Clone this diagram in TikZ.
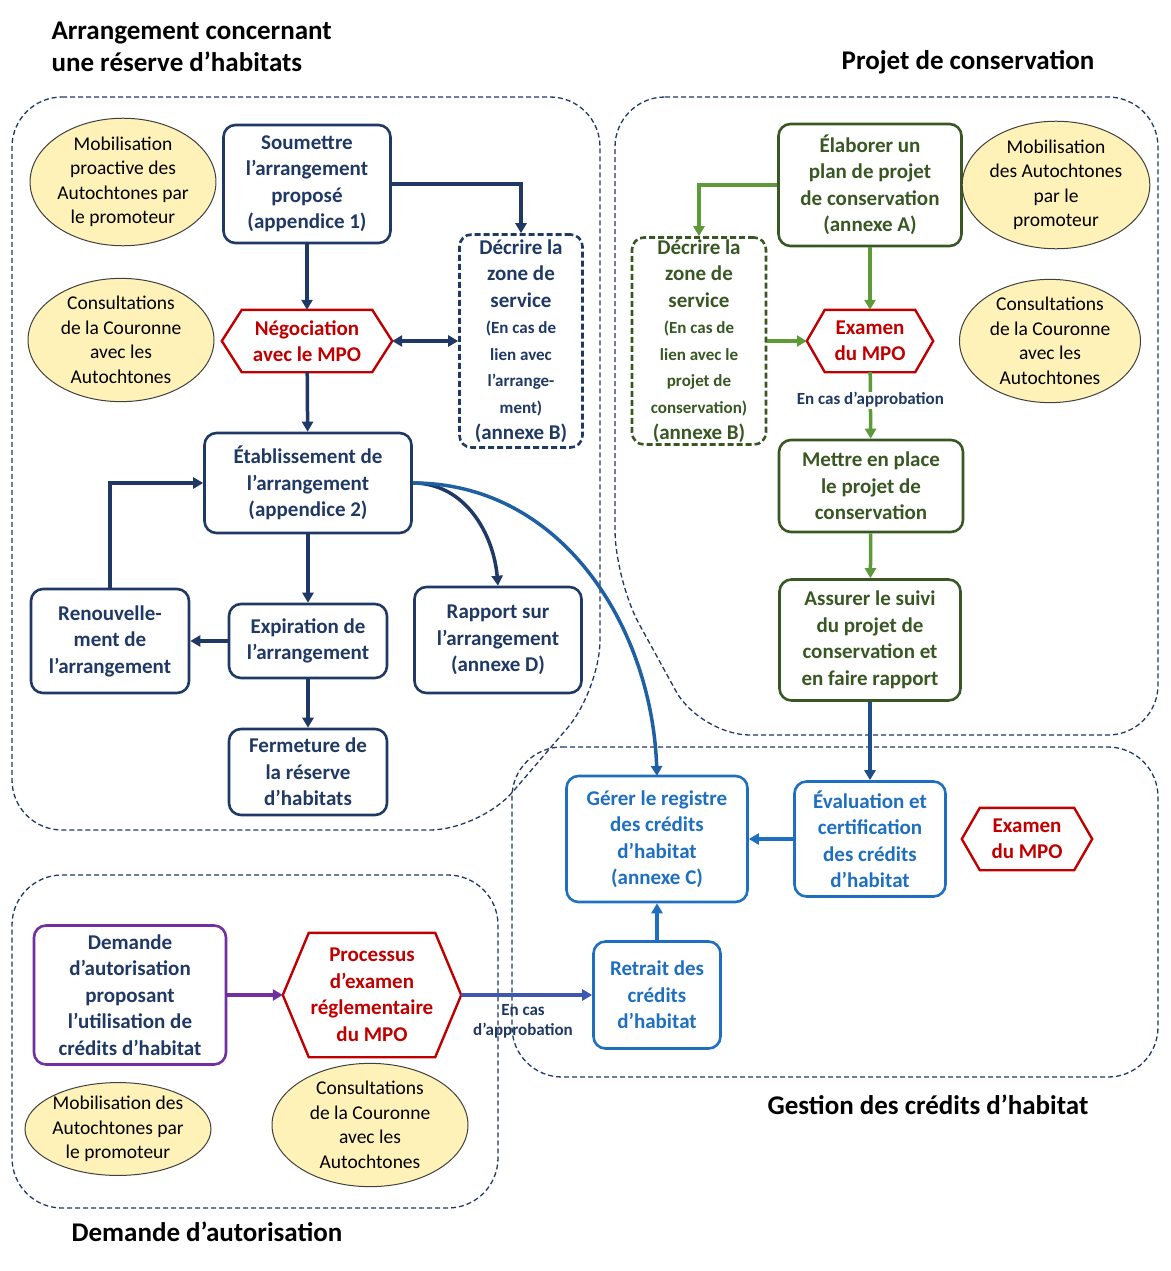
\documentclass[tikz,border=0pt]{standalone}
\usepackage{fontspec}
\setmainfont{Carlito}
\usetikzlibrary{arrows.meta,calc,shapes.geometric}
\definecolor{navy}{HTML}{1F3864}
\definecolor{dred}{HTML}{C00000}
\definecolor{dgreen}{HTML}{385723}
\definecolor{lgreen}{HTML}{5E9A3A}
\definecolor{mblue}{HTML}{1F6FC0}
\definecolor{purp}{HTML}{7030A0}
\definecolor{ell}{HTML}{FFF2B8}
\begin{document}
\begin{tikzpicture}[x=1pt,y=-1pt,
 box/.style={draw,line width=2.6pt,rounded corners=12pt,align=center,font=\fontsize{21}{26.5}\selectfont\bfseries,inner sep=0pt},
 nb/.style={box,draw=navy,text=navy},
 gb/.style={box,draw=dgreen,text=dgreen},
 bb/.style={box,draw=mblue,text=mblue},
 hx/.style={align=center,font=\fontsize{21}{26.5}\selectfont\bfseries,text=dred,inner sep=0pt},
 el/.style={ellipse,draw=black!75,fill=ell,line width=1pt,align=center,font=\fontsize{19.5}{24.5}\selectfont,inner sep=0pt},
 reg/.style={draw=navy,line width=1.3pt,dash pattern=on 5pt off 3pt,rounded corners=50pt},
 ar/.style={line width=3.5pt,-{Triangle[length=10pt,width=11pt]}},
 ttl/.style={font=\fontsize{27}{32}\selectfont\bfseries,align=left}]
\useasboundingbox (0,0) rectangle (1170,1271);
\newcommand{\hexa}[2]{\draw[dred,line width=2.4pt,line join=miter] (#1.west) -- ($(#1.north west)+(#2,0)$) -- ($(#1.north east)-(#2,0)$) -- (#1.east) -- ($(#1.south east)-(#2,0)$) -- ($(#1.south west)+(#2,0)$) -- cycle;}
% regions
\draw[reg] (12,97) -- (600,97) -- (600,690) -- (480,830) -- (12,830) -- cycle;
\draw[reg] (615,97) -- (1158,97) -- (1158,735) -- (700,735) -- (615,580) -- cycle;
\draw[reg] (512,747) -- (1158,747) -- (1158,1077) -- (512,1077) -- cycle;
\draw[reg] (12,875) -- (498,875) -- (498,1208) -- (12,1208) -- cycle;
% titles
\node[ttl,anchor=west] (t1) at (48,47) {Arrangement concernant\\une réserve d’habitats};
\node[ttl] (t2) at (968,62) {Projet de conservation};
\node[ttl] (t3) at (928,1105) {Gestion des crédits d’habitat};
\node[ttl] (t4) at (207,1232) {Demande d’autorisation};
% left group
\node[el,minimum width=182,minimum height=110] (e1) at (123,182) {Mobilisation\\proactive des\\Autochtones par\\le promoteur};
\node[el,minimum width=186,minimum height=115] (e2) at (121,340) {Consultations\\de la Couronne\\avec les\\Autochtones};
\node[nb,minimum width=167,minimum height=118] (sou) at (307,184) {Soumettre\\l’arrangement\\proposé\\(appendice 1)};
\node[nb,dash pattern=on 6pt off 3pt,minimum width=123,minimum height=213] (dz1) at (521,341) {Décrire la\\zone de\\service\\{\fontsize{17}{23}\selectfont(En cas de}\\{\fontsize{17}{23}\selectfont lien avec}\\{\fontsize{17}{23}\selectfont l’arrange-}\\{\fontsize{17}{23}\selectfont ment)}\\(annexe B)};
\node[hx,minimum width=170,minimum height=62] (neg) at (307,341) {Négociation\\avec le MPO};
\hexa{neg}{20}
\node[nb,minimum width=207,minimum height=100] (eta) at (308,483) {Établissement de\\l’arrangement\\(appendice 2)};
\node[nb,minimum width=158,minimum height=104] (ren) at (110,641) {Renouvelle-\\ment de\\l’arrangement};
\node[nb,minimum width=158,minimum height=74] (exp) at (308,641) {Expiration de\\l’arrangement};
\node[nb,minimum width=167,minimum height=106] (rap) at (498,640) {Rapport sur\\l’arrangement\\(annexe D)};
\node[nb,minimum width=158,minimum height=86] (fer) at (308,772) {Fermeture de\\la réserve\\d’habitats};
\draw[ar,navy] (sou) -- (neg);
\draw[ar,navy] (sou.east) -| (dz1.north);
\draw[line width=3.5pt,navy,{Triangle[length=10pt,width=11pt]}-{Triangle[length=10pt,width=11pt]}] (neg.east) -- (dz1.west);
\draw[ar,navy] (neg) -- (eta);
\draw[ar,navy] (eta) -- (exp);
\draw[ar,navy] (exp) -- (ren);
\draw[ar,navy] (ren.north) |- (eta.west);
\draw[ar,navy] (exp) -- (fer);
\draw[ar,navy] (eta.east) to[out=0,in=95] (rap.north);
\draw[ar,mblue!70!navy] (eta.east) to[out=0,in=92] (657,776);
% right group
\node[gb,minimum width=183,minimum height=122] (ela) at (870,185) {Élaborer un\\plan de projet\\de conservation\\(annexe A)};
\node[el,minimum width=166,minimum height=115] (e3) at (1056,185) {Mobilisation\\des Autochtones\\par le\\promoteur};
\node[gb,dash pattern=on 6pt off 3pt,minimum width=134,minimum height=207] (dz2) at (699,341) {Décrire la\\zone de\\service\\{\fontsize{17}{23}\selectfont(En cas de}\\{\fontsize{17}{23}\selectfont lien avec le}\\{\fontsize{17}{23}\selectfont projet de}\\{\fontsize{17}{23}\selectfont conservation)}\\(annexe B)};
\node[hx,minimum width=126,minimum height=62] (ex1) at (870,341) {Examen\\du MPO};
\hexa{ex1}{18}
\node[el,minimum width=181,minimum height=115] (e4) at (1050,341) {Consultations\\de la Couronne\\avec les\\Autochtones};
\node[gb,minimum width=184,minimum height=92] (met) at (871,486) {Mettre en place\\le projet de\\conservation};
\node[gb,minimum width=181,minimum height=121] (ass) at (870,640) {Assurer le suivi\\du projet de\\conservation et\\en faire rapport};
\draw[ar,lgreen] (ela) -- (ex1);
\draw[ar,lgreen] (ela.west) -| (dz2.north);
\draw[ar,lgreen] (dz2.east) -- (ex1.west);
\draw[ar,lgreen] (ex1) -- (met) node[pos=0.42,fill=white,inner sep=1pt,text=navy,font=\fontsize{17}{20}\selectfont\bfseries] (l1) {En cas d’approbation};
\draw[ar,lgreen] (met) -- (ass);
% gestion
\node[bb,minimum width=181,minimum height=126] (ger) at (657,839) {Gérer le registre\\des crédits\\d’habitat\\(annexe C)};
\node[bb,minimum width=151,minimum height=115] (eva) at (870,839) {Évaluation et\\certification\\des crédits\\d’habitat};
\node[hx,minimum width=130,minimum height=62] (ex2) at (1027,839) {Examen\\du MPO};
\hexa{ex2}{18}
\node[bb,minimum width=127,minimum height=107] (ret) at (657,995) {Retrait des\\crédits\\d’habitat};
\draw[ar,navy!60!mblue] (ass) -- (eva);
\draw[ar,mblue] (eva) -- (ger);
\draw[ar,mblue] (ret) -- (ger);
% demande
\node[box,draw=purp,text=navy,minimum width=192,minimum height=139] (dem) at (130,995) {Demande\\d’autorisation\\proposant\\l’utilisation de\\crédits d’habitat};
\node[hx,minimum width=178,minimum height=124] (pro) at (372,995) {Processus\\d’examen\\réglementaire\\du MPO};
\hexa{pro}{26}
\node[el,minimum width=186,minimum height=86] (e5) at (118,1129) {Mobilisation des\\Autochtones par\\le promoteur};
\node[el,minimum width=196,minimum height=120] (e6) at (370,1125) {Consultations\\de la Couronne\\avec les\\Autochtones};
\draw[ar,purp] (dem) -- (pro);
\draw[ar,purp!40!mblue] (pro.east) -- (ret.west);
\node[font=\fontsize{17}{20}\selectfont\bfseries,text=navy,align=center] (l2) at (523,1021) {En cas\\d’approbation};
\end{tikzpicture}
\end{document}
